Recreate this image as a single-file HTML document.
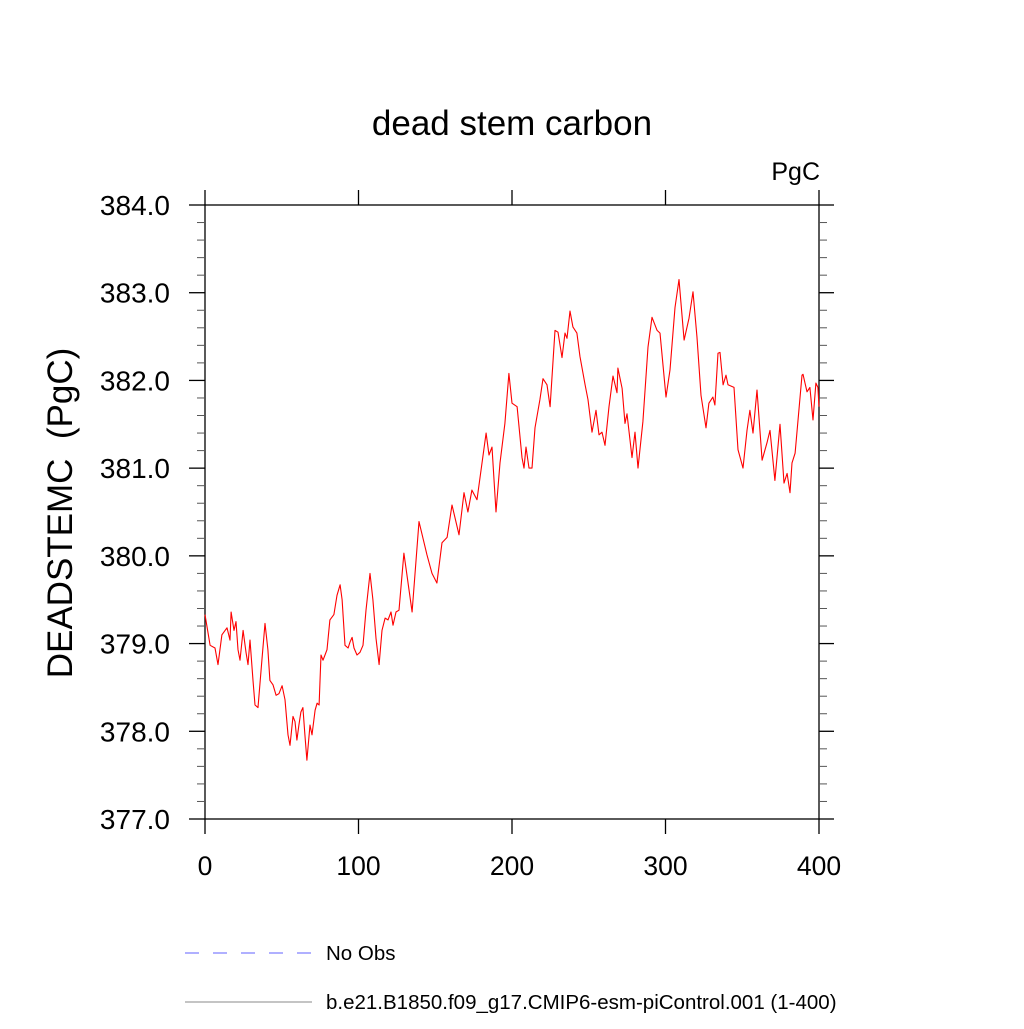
<!DOCTYPE html>
<html><head><meta charset="utf-8"><style>
html,body{margin:0;padding:0;background:#fff;}
svg text{font-family:"Liberation Sans",sans-serif;fill:#000;}
</style></head><body>
<svg id="chart" width="1024" height="1024" xmlns="http://www.w3.org/2000/svg">
<text x="512" y="135" font-size="35" text-anchor="middle">dead stem carbon</text>
<text x="820" y="180" font-size="25" text-anchor="end">PgC</text>
<text transform="translate(72,513) rotate(-90)" font-size="35" text-anchor="middle" xml:space="preserve">DEADSTEMC  (PgC)</text>
<g id="axes"></g>
<g id="series"></g>
<g>
<line x1="185" y1="953" x2="315" y2="953" stroke="#6060ff" stroke-width="1" stroke-dasharray="14,14"/>
<text x="326" y="960" font-size="20.5">No Obs</text>
<line x1="185" y1="1002" x2="312" y2="1002" stroke="#888" stroke-width="1"/>
<text x="326" y="1009" font-size="20.5">b.e21.B1850.f09_g17.CMIP6-esm-piControl.001 (1-400)</text>
</g>
</svg>
<script>
const years=[0,3.3,6.5,8.5,11,14.3,16.3,17,18.9,20.2,21.5,22.8,24.8,26.7,28,29.3,31.3,32.6,34.5,37.1,39.1,41,42.3,44.3,46.3,48.2,50.2,52.1,54.1,55.4,57.3,58.6,59.9,61.2,62.5,63.8,65.1,66.4,68.4,69.7,71.7,73,74.3,75.6,76.9,78.2,79.5,81.4,84,86,88,89.3,91.2,93.2,94.5,95.8,97.1,99,101,102.9,104.9,107.5,109.4,111.4,113.4,115.3,117.3,119.2,121.2,122.5,124.4,126.4,129.6,134.9,139.4,144.6,147.9,151.1,154.4,157.7,160.9,165.5,168.7,171.3,173.9,177.2,183.1,185,187,189.6,192.2,195.4,198,200,203.3,206.5,207.8,209.1,211.1,213,215,218.2,220.2,222.8,224.8,228,230,232.6,234.5,235.8,237.8,239.7,242.3,244.3,247.6,249.5,252.1,254.7,256.7,258.6,260.6,263.2,265.8,268.4,269,271.7,273.6,274.9,278.2,280.1,282.1,285.3,288.6,291.2,294.5,296.4,300.3,302.9,306.2,308.8,312.1,315.3,317.9,320.5,323.1,326.4,328.3,330.9,332.2,334.2,335.5,337.5,339.4,340.7,344.6,347.2,350.5,353.1,355,357,359.6,362.9,366.1,368.1,371.3,374.6,377.2,379.2,381.1,382.4,384.4,388.9,389.6,392.2,394.1,396.1,398,399.3,400];
const values=[379.33,378.98,378.95,378.76,379.10,379.18,379.04,379.36,379.15,379.25,378.93,378.81,379.15,378.90,378.76,379.04,378.58,378.30,378.27,378.81,379.23,378.93,378.58,378.53,378.41,378.43,378.52,378.36,377.96,377.84,378.17,378.11,377.90,378.07,378.22,378.27,377.96,377.67,378.07,377.96,378.24,378.32,378.30,378.87,378.81,378.87,378.93,379.27,379.33,379.55,379.67,379.50,378.98,378.95,379.02,379.07,378.95,378.87,378.90,378.98,379.38,379.80,379.50,379.06,378.76,379.15,379.29,379.27,379.36,379.21,379.36,379.38,380.03,379.36,380.39,380.01,379.80,379.69,380.15,380.21,380.58,380.24,380.72,380.50,380.75,380.64,381.40,381.15,381.24,380.50,381.06,381.51,382.08,381.74,381.70,381.12,381.00,381.24,381.00,381.00,381.46,381.78,382.02,381.95,381.70,382.57,382.55,382.26,382.54,382.48,382.79,382.61,382.54,382.27,381.95,381.78,381.41,381.66,381.38,381.41,381.26,381.70,382.05,381.86,382.14,381.91,381.51,381.62,381.12,381.41,381.00,381.53,382.38,382.72,382.57,382.54,381.81,382.12,382.83,383.15,382.46,382.71,383.01,382.49,381.83,381.46,381.74,381.81,381.72,382.31,382.32,381.95,382.06,381.95,381.92,381.21,381.00,381.43,381.66,381.40,381.89,381.09,381.29,381.43,380.86,381.50,380.83,380.94,380.72,381.06,381.17,382.06,382.07,381.87,381.92,381.55,381.97,381.92,381.70];
const xTicks=[0,100,200,300,400];
const xTickLabels=["0","100","200","300","400"];
const yTicks=[377,378,379,380,381,382,383,384];
const yTickLabels=["377.0","378.0","379.0","380.0","381.0","382.0","383.0","384.0"];
const X0=205,X1=819,Y0=819,Y1=205;
function sx(v){return X0+(v-0)/(400-0)*(X1-X0);}
function sy(v){return Y0-(v-377)/(384-377)*(Y0-Y1);}
const NS="http://www.w3.org/2000/svg";
const axes=document.getElementById('axes');
function mk(tag,attrs,parent){const e=document.createElementNS(NS,tag);for(const k in attrs)e.setAttribute(k,attrs[k]);parent.appendChild(e);return e;}
const box=mk('rect',{x:X0,y:Y1,width:X1-X0,height:Y0-Y1,fill:'none',stroke:'#000','stroke-width':1.3},axes);


xTicks.forEach((t,i)=>{
  const x=sx(t);
  const b=mk('line',{x1:x,y1:Y0,x2:x,y2:Y0+15,stroke:'#000','stroke-width':1.3},axes);
  
  
  const tp=mk('line',{x1:x,y1:Y1,x2:x,y2:Y1-15,stroke:'#000','stroke-width':1.3},axes);
  
  
  const lb=mk('text',{x:x,y:875,'font-size':26.5,'text-anchor':'middle'},axes);
  lb.textContent=xTickLabels[i];
  
  
});
yTicks.forEach((t,i)=>{
  const y=sy(t);
  const l=mk('line',{x1:X0-16,y1:y,x2:X0,y2:y,stroke:'#000','stroke-width':1.3},axes);
  
  
  const r=mk('line',{x1:X1,y1:y,x2:X1+15,y2:y,stroke:'#000','stroke-width':1.3},axes);
  
  
  const lb=mk('text',{x:170,y:y+10,'font-size':28,'text-anchor':'end'},axes);
  lb.textContent=yTickLabels[i];
  
  
  if(i<yTicks.length-1){
    for(let k=1;k<5;k++){
      const yy=sy(t+k*0.2);
      const ml=mk('line',{x1:X0-8,y1:yy,x2:X0,y2:yy,stroke:'#555','stroke-width':1},axes);
      
      
      const mr=mk('line',{x1:X1,y1:yy,x2:X1+8,y2:yy,stroke:'#555','stroke-width':1},axes);
      
      
    }
  }
});
const pts=years.map((y,i)=>sx(y).toFixed(1)+','+sy(values[i]).toFixed(1)).join(' ');
const line=mk('polyline',{points:pts,fill:'none',stroke:'#ff0000','stroke-width':1.1,'stroke-linejoin':'round'},document.getElementById('series'));


</script>
</body></html>
